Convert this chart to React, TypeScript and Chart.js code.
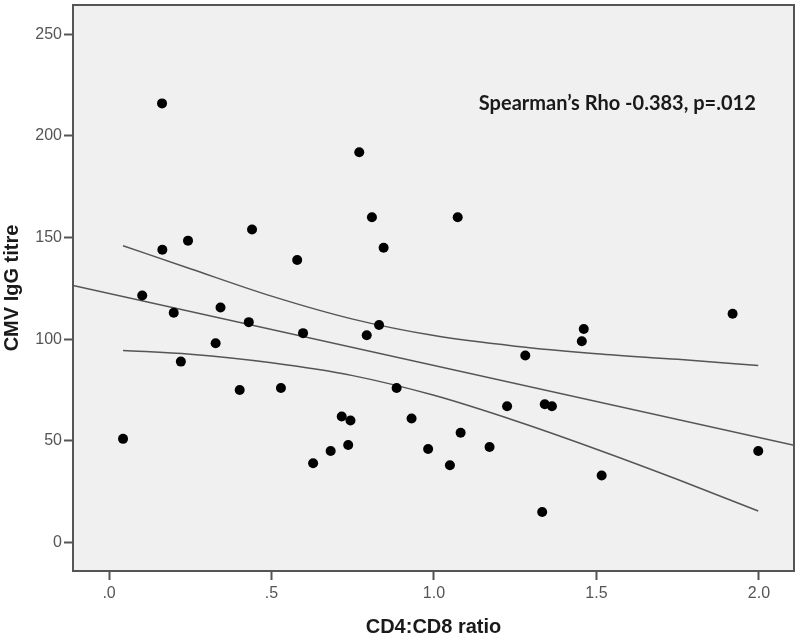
import React, { useEffect, useRef } from "react";
import { Chart, registerables } from "chart.js";

Chart.register(...registerables);

// CD4:CD8 ratio (x) and CMV IgG titre (y) for each subject
const ratio = [
  0.043, 0.102, 0.163, 0.164, 0.199, 0.221, 0.243, 0.328, 0.343, 0.402, 0.43,
  0.44, 0.529, 0.579, 0.597, 0.628, 0.682, 0.716, 0.736, 0.743, 0.77, 0.793,
  0.809, 0.831, 0.845, 0.885, 0.931, 0.982, 1.049, 1.073, 1.082, 1.171, 1.225,
  1.281, 1.333, 1.341, 1.363, 1.455, 1.461, 1.516, 1.919, 1.998,
];
const titre = [
  51, 121.5, 216, 144, 113, 89, 148.5, 98, 115.6, 75, 108.4, 154, 76, 139, 103,
  39, 45, 62, 48, 60, 192, 102, 160, 107, 145, 76, 61, 46, 38, 160, 54, 47, 67,
  92, 15, 68, 67, 99, 105, 33, 112.5, 45,
];

// Linear fit line (read at the plot edges)
const fitX = [-0.111, 2.108];
const fitY = [126.4, 47.8];

// 95% confidence band of the mean, read along x
const bandX = [0.043, 0.25, 0.5, 0.75, 1.0, 1.25, 1.5, 1.75, 1.998];
const bandUpper = [146.0, 134.7, 121.2, 109.9, 101.8, 96.6, 92.9, 90.1, 87.1];
const bandLower = [94.5, 92.6, 88.4, 82.1, 72.4, 59.9, 45.9, 31.0, 15.5];

// Axis ticks
const xTicks = [0, 0.5, 1.0, 1.5, 2.0];
const xTickLabels = [".0", ".5", "1.0", "1.5", "2.0"];
const yTicks = [0, 50, 100, 150, 200, 250];

const annotationText = "Spearman\u2019s Rho -0.383, p=.012";
const annotationX = 1.138;
const annotationY = 215.8;

const xTitle = "CD4:CD8 ratio";
const yTitle = "CMV IgG titre";

const frameColor = "#555555";
const lineColor = "#555555";

const framePlugin = {
  id: "frame",
  beforeDatasetsDraw(chart: any) {
    const { ctx, chartArea } = chart;
    ctx.save();
    ctx.fillStyle = "#f0f0f0";
    ctx.fillRect(
      chartArea.left,
      chartArea.top,
      chartArea.right - chartArea.left,
      chartArea.bottom - chartArea.top
    );
    ctx.restore();
  },
  afterDatasetsDraw(chart: any) {
    const { ctx, chartArea, scales } = chart;
    ctx.save();
    ctx.font = "bold 20px Lato";
    ctx.fillStyle = "#1a1a1a";
    ctx.textBaseline = "middle";
    ctx.textAlign = "left";
    ctx.fillText(
      annotationText,
      scales.x.getPixelForValue(annotationX),
      scales.y.getPixelForValue(annotationY)
    );
    ctx.strokeStyle = frameColor;
    ctx.lineWidth = 2;
    ctx.strokeRect(
      chartArea.left,
      chartArea.top,
      chartArea.right - chartArea.left,
      chartArea.bottom - chartArea.top
    );
    ctx.restore();
  },
};

export default function App() {
  const canvasRef = useRef<HTMLCanvasElement | null>(null);

  useEffect(() => {
    if (!canvasRef.current) return;
    const points = ratio.map((x, i) => ({ x, y: titre[i] }));
    const fit = fitX.map((x, i) => ({ x, y: fitY[i] }));
    const upper = bandX.map((x, i) => ({ x, y: bandUpper[i] }));
    const lower = bandX.map((x, i) => ({ x, y: bandLower[i] }));

    const lineDs = (data: any[]) => ({
      type: "line" as const,
      data,
      borderColor: lineColor,
      borderWidth: 1.5,
      pointRadius: 0,
      fill: false,
      showLine: true,
      cubicInterpolationMode: "monotone" as const,
      order: 2,
    });

    const chart = new Chart(canvasRef.current, {
      type: "scatter",
      data: {
        datasets: [
          {
            data: points,
            backgroundColor: "#000000",
            borderColor: "#000000",
            pointRadius: 5,
            pointBorderWidth: 0,
            order: 1,
          } as any,
          lineDs(fit),
          lineDs(upper),
          lineDs(lower),
        ],
      },
      options: {
        animation: false,
        responsive: true,
        maintainAspectRatio: false,
        layout: { padding: { left: 0, top: 4, right: 6, bottom: 0 } },
        plugins: {
          legend: { display: false },
          tooltip: { enabled: false },
        },
        scales: {
          x: {
            type: "linear",
            min: -0.111,
            max: 2.108,
            afterBuildTicks: (scale: any) => {
              scale.ticks = xTicks.map((v) => ({ value: v }));
            },
            afterFit: (scale: any) => {
              scale.height = 66;
              scale.paddingLeft = 0;
              scale.paddingRight = 0;
            },
            ticks: {
              callback: (v: any) => {
                const i = xTicks.indexOf(Number(v));
                return i >= 0 ? xTickLabels[i] : "";
              },
              font: { family: "Liberation Sans", size: 16 },
              color: "#555555",
              padding: 4,
              maxRotation: 0,
              autoSkip: false,
            },
            grid: {
              drawOnChartArea: false,
              drawTicks: true,
              tickLength: 9,
              tickColor: frameColor,
              tickWidth: 2,
            },
            border: { display: false },
            title: {
              display: true,
              text: xTitle,
              font: { family: "Liberation Sans", size: 20, weight: "bold" },
              color: "#1a1a1a",
              padding: { top: 0, bottom: -2 },
            },
          },
          y: {
            type: "linear",
            min: -14,
            max: 264.4,
            afterBuildTicks: (scale: any) => {
              scale.ticks = yTicks.map((v) => ({ value: v }));
            },
            afterFit: (scale: any) => {
              scale.width = 73;
              scale.paddingTop = 0;
              scale.paddingBottom = 0;
            },
            ticks: {
              font: { family: "Liberation Sans", size: 16 },
              color: "#555555",
              padding: 2,
              autoSkip: false,
            },
            grid: {
              drawOnChartArea: false,
              drawTicks: true,
              tickLength: 9,
              tickColor: frameColor,
              tickWidth: 2,
            },
            border: { display: false },
            title: {
              display: true,
              text: yTitle,
              font: { family: "Liberation Sans", size: 20, weight: "bold" },
              color: "#1a1a1a",
              padding: { top: 0, bottom: 0 },
            },
          },
        },
      },
      plugins: [framePlugin],
    });
    return () => chart.destroy();
  }, []);

  return (
    <div
      style={{
        position: "fixed",
        left: 0,
        top: 0,
        width: 800,
        height: 637,
        background: "#ffffff",
      }}
    >
      <canvas ref={canvasRef} />
    </div>
  );
}
